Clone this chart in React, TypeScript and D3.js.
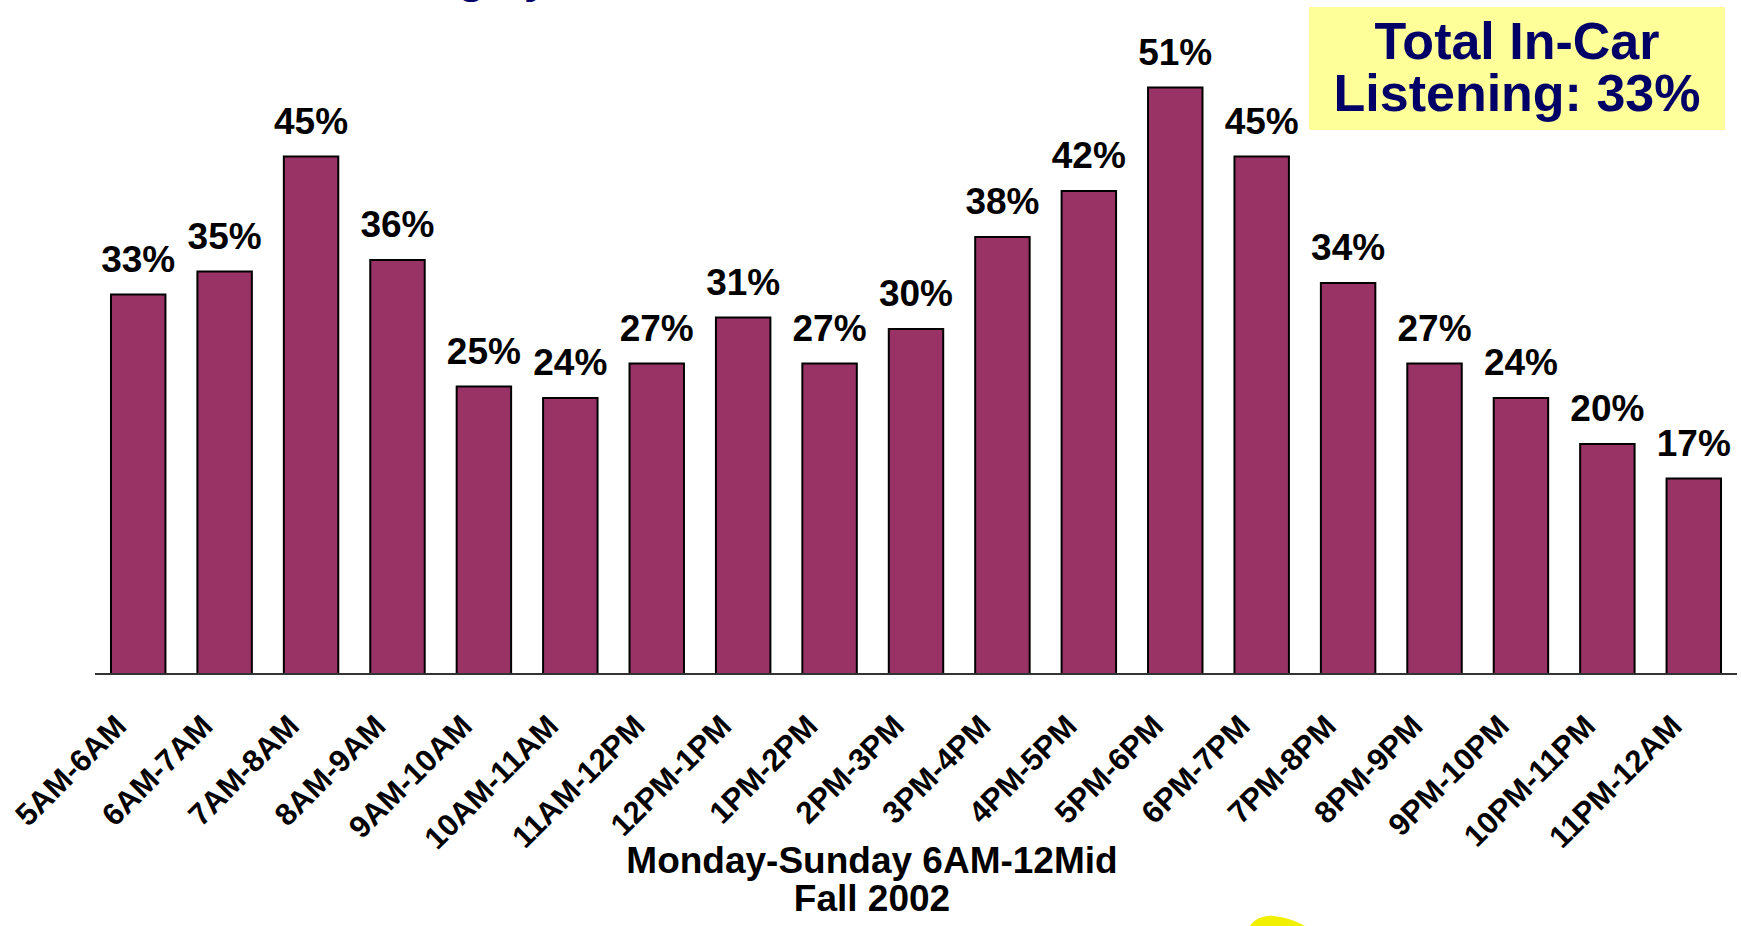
import React, { useEffect, useRef } from 'react';
import * as d3 from 'd3';

// hourly in-car listening share, Mon-Sun
const dayparts = [
  '5AM-6AM', '6AM-7AM', '7AM-8AM', '8AM-9AM', '9AM-10AM', '10AM-11AM',
  '11AM-12PM', '12PM-1PM', '1PM-2PM', '2PM-3PM', '3PM-4PM', '4PM-5PM',
  '5PM-6PM', '6PM-7PM', '7PM-8PM', '8PM-9PM', '9PM-10PM', '10PM-11PM', '11PM-12AM'
];
const inCarShare = [33, 35, 45, 36, 25, 24, 27, 31, 27, 30, 38, 42, 51, 45, 34, 27, 24, 20, 17];
const calloutLines = ['Total In-Car', 'Listening: 33%'];
const subtitleLines = ['Monday-Sunday 6AM-12Mid', 'Fall 2002'];
const chartTitle = 'In-Car Listening by Hour';

const App: React.FC = () => {
  const svgRef = useRef<SVGSVGElement>(null);
  const width = 1741;
  const height = 926;

  useEffect(() => {
    if (!svgRef.current) return;
    const svg = d3.select(svgRef.current);
    svg.selectAll('*').remove();

    const font = '"Liberation Sans", Arial, sans-serif';
    const left = 95;
    const right = 1737;
    const baseline = 674;

    const x = d3.scaleBand<string>()
      .domain(dayparts)
      .range([left, right])
      .paddingInner(0.37)
      .paddingOuter(0.185);

    const y = d3.scaleLinear()
      .domain([0, 58])
      .range([baseline, baseline - 58 * 11.5]);

    // title, mostly cut off above the frame
    svg.append('text')
      .attr('x', 150)
      .attr('y', -7)
      .style('font-family', font)
      .style('font-weight', 'bold')
      .style('font-size', '44px')
      .style('fill', '#000066')
      .text(chartTitle);

    // bars
    svg.append('g')
      .selectAll('rect')
      .data(inCarShare)
      .join('rect')
      .attr('x', (_, i) => x(dayparts[i])!)
      .attr('y', d => y(d))
      .attr('width', x.bandwidth())
      .attr('height', d => baseline - y(d))
      .style('fill', '#993366')
      .style('stroke', '#000')
      .style('stroke-width', 2);

    // value labels
    svg.append('g')
      .selectAll('text')
      .data(inCarShare)
      .join('text')
      .attr('x', (_, i) => x(dayparts[i])! + x.bandwidth() / 2)
      .attr('y', d => y(d) - 23)
      .style('text-anchor', 'middle')
      .style('font-family', font)
      .style('font-weight', 'bold')
      .style('font-size', '37px')
      .style('fill', '#000')
      .text(d => `${d}%`);

    // category axis line
    svg.append('line')
      .attr('x1', left)
      .attr('x2', right)
      .attr('y1', baseline)
      .attr('y2', baseline)
      .style('stroke', '#333')
      .style('stroke-width', 2);

    // rotated category labels
    svg.append('g')
      .selectAll('text')
      .data(dayparts)
      .join('text')
      .attr('transform', d => `translate(${x(d)! + x.bandwidth() / 2 - 10},${baseline + 54}) rotate(-45)`)
      .style('text-anchor', 'end')
      .style('font-family', font)
      .style('font-weight', 'bold')
      .style('font-size', '31px')
      .style('fill', '#000')
      .text(d => d);

    // subtitle under the axis
    svg.append('g')
      .selectAll('text')
      .data(subtitleLines)
      .join('text')
      .attr('x', 872)
      .attr('y', (_, i) => 873 + i * 38)
      .style('text-anchor', 'middle')
      .style('font-family', font)
      .style('font-weight', 'bold')
      .style('font-size', '37px')
      .style('fill', '#000')
      .text(d => d);

    // callout box
    const box = svg.append('g');
    box.append('rect')
      .attr('x', 1309)
      .attr('y', 7)
      .attr('width', 416)
      .attr('height', 123)
      .style('fill', '#ffff99');
    box.selectAll('text')
      .data(calloutLines)
      .join('text')
      .attr('x', 1517)
      .attr('y', (_, i) => 59 + i * 52)
      .style('text-anchor', 'middle')
      .style('font-family', font)
      .style('font-weight', 'bold')
      .style('font-size', '52px')
      .style('fill', '#000066')
      .text(d => d);

    // yellow clip-art peeking in at the bottom
    svg.append('path')
      .attr('d', 'M1248,930 C1252,920 1262,915 1274,916 C1290,918 1300,923 1312,930 Z')
      .style('fill', '#f0f000');
  }, []);

  return (
    <div style={{ position: 'absolute', left: 0, top: 0, width, height, background: '#fff' }}>
      <svg ref={svgRef} width={width} height={height} style={{ display: 'block' }}></svg>
    </div>
  );
};

export default App;
